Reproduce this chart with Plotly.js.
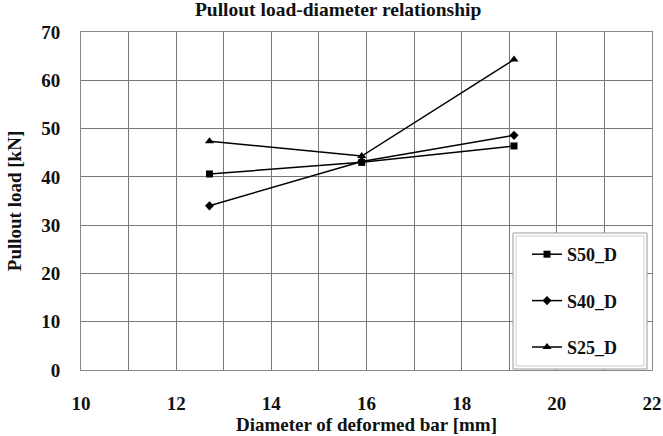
<!DOCTYPE html>
<html>
<head>
<meta charset="utf-8">
<script src="https://cdn.plot.ly/plotly-3.0.1.min.js"></script>
<style>html,body{margin:0;padding:0;background:#fff}</style>
</head>
<body>
<div id="chart" style="width:663px;height:436px"></div>
<script>
var diameters = [12.7, 15.9, 19.1];
var s50 = [40.6, 43.0, 46.4];
var s40 = [34.0, 43.2, 48.6];
var s25 = [47.4, 44.3, 64.3];
var seriesNames = ['S50_D', 'S40_D', 'S25_D'];
var xTickVals = [10, 12, 14, 16, 18, 20, 22];
var yTickVals = [0, 10, 20, 30, 40, 50, 60, 70];

var fontFam = 'Liberation Serif';
var symbols = ['square', 'diamond', 'triangle-up'];
var sizes = [7, 7, 8];
var ys = [s50, s40, s25];
var traces = ys.map(function (y, i) {
  return {
    x: diameters, y: y, name: seriesNames[i], type: 'scatter', mode: 'lines+markers',
    legendgroup: 'g' + i,
    line: {color: '#000', width: 1.5},
    marker: {symbol: symbols[i], size: sizes[i], color: '#000'}
  };
});

function boldLabels(vals) { return vals.map(function (v) { return '<b>' + v + '</b>'; }); }

var tickFont = {size: 19, family: fontFam, color: '#111'};
var titleFont = {size: 19, family: fontFam, weight: 700, color: '#111'};
var layout = {
  width: 663, height: 436,
  margin: {l: 81, r: 11, t: 32, b: 66},
  paper_bgcolor: '#fff', plot_bgcolor: '#fff',
  font: {family: fontFam, color: '#000'},
  title: {text: 'Pullout load-diameter relationship', font: {size: 19.5, family: fontFam, weight: 700, color: '#111'}, x: 0.51, xanchor: 'center', y: 0.995, yanchor: 'top'},
  xaxis: {
    range: [10, 22], tickmode: 'array', tickvals: xTickVals, ticktext: boldLabels(xTickVals),
    showgrid: true, gridcolor: '#777', gridwidth: 1,
    minor: {dtick: 1, showgrid: true, gridcolor: '#777', gridwidth: 1},
    zeroline: false, showline: true, mirror: true, linecolor: '#888', linewidth: 1,
    ticks: 'outside', ticklen: 16, tickcolor: 'rgba(0,0,0,0)',
    tickfont: tickFont,
    title: {text: 'Diameter of deformed bar [mm]', font: titleFont, standoff: 4}
  },
  yaxis: {
    range: [0, 70], tickmode: 'array', tickvals: yTickVals, ticktext: boldLabels(yTickVals),
    showgrid: true, gridcolor: '#777', gridwidth: 1,
    zeroline: false, showline: true, mirror: true, linecolor: '#888', linewidth: 1,
    ticks: 'outside', ticklen: 16, tickcolor: 'rgba(0,0,0,0)',
    tickfont: tickFont,
    title: {text: 'Pullout load [kN]', font: titleFont, standoff: 14}
  },
  shapes: [
    {type: 'rect', xref: 'paper', yref: 'paper', layer: 'above',
     x0: (513 - 81) / 571, x1: (647 - 81) / 571, y0: (370 - 369) / 338, y1: (370 - 233) / 338,
     fillcolor: '#fff', line: {color: '#999', width: 1}},
    {type: 'rect', xref: 'paper', yref: 'paper', layer: 'above',
     x0: (516 - 81) / 571, x1: (644 - 81) / 571, y0: (370 - 366) / 338, y1: (370 - 236) / 338,
     fillcolor: 'rgba(0,0,0,0)', line: {color: '#ccc', width: 1}}
  ],
  legend: {
    x: (527 - 81) / 571, xanchor: 'left', y: (370 - 236) / 338, yanchor: 'top',
    bgcolor: 'rgba(0,0,0,0)', borderwidth: 0,
    font: {size: 18, family: fontFam, weight: 700, color: '#111'},
    traceorder: 'grouped', tracegroupgap: 20,
    itemwidth: 30
  },
  showlegend: true
};

Plotly.newPlot('chart', traces, layout, {displayModeBar: false, staticPlot: true});
</script>
</body>
</html>
